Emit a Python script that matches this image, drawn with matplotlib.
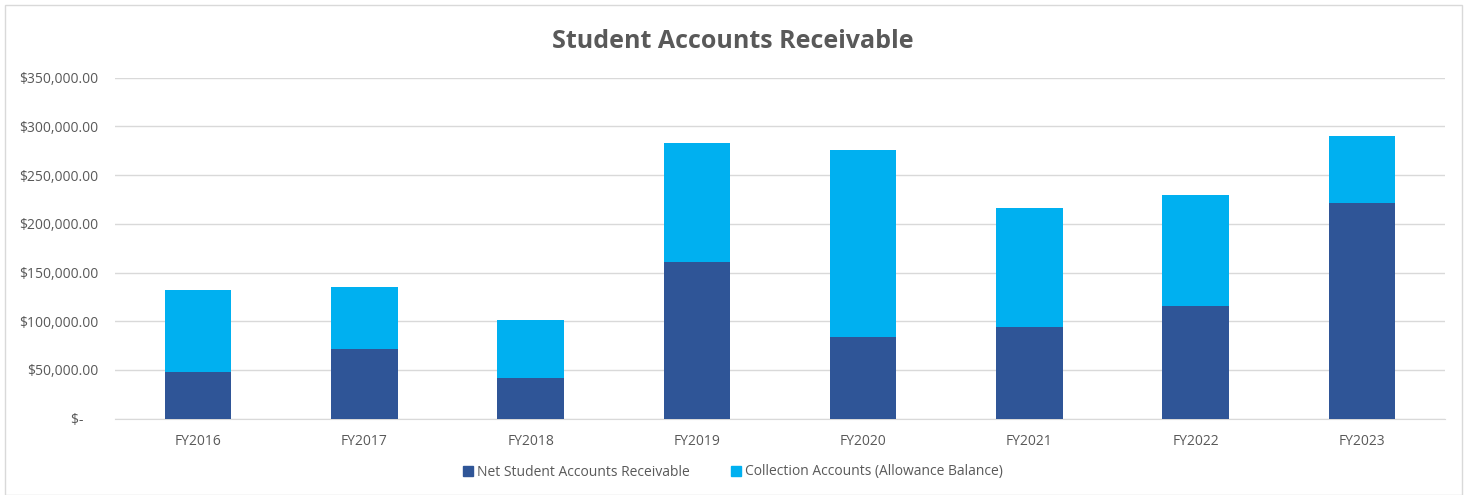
import matplotlib.pyplot as plt
import matplotlib.patches as mpatches
from matplotlib.ticker import FuncFormatter

years = ["FY2016", "FY2017", "FY2018", "FY2019", "FY2020", "FY2021", "FY2022", "FY2023"]
net_ar = [47600, 71900, 41800, 160500, 83500, 93800, 116000, 221000]
collections = [84500, 63600, 59200, 122800, 192000, 122800, 113600, 69500]

dark = "#2F5597"
light = "#00B0F0"
txt = "#595959"

plt.rcParams["font.family"] = ["Open Sans", "DejaVu Sans"]

fig = plt.figure(figsize=(14.66, 4.95), dpi=100)
ax = fig.add_axes([115 / 1466, 1 - 418.7 / 495, 1330 / 1466, 341 / 495])

x = range(len(years))
ax.bar(x, net_ar, width=0.4, color=dark, label="Net Student Accounts Receivable", zorder=3)
ax.bar(x, collections, width=0.4, bottom=net_ar, color=light,
       label="Collection Accounts (Allowance Balance)", zorder=3)

ax.set_xlim(-0.5, len(years) - 0.5)
ax.set_ylim(0, 350000)
ax.set_yticks(range(0, 350001, 50000))
ax.yaxis.set_major_formatter(FuncFormatter(lambda v, p: "$-    " if v == 0 else f"${v:,.2f}"))
ax.set_xticks(list(x))
ax.set_xticklabels(years)
ax.tick_params(axis="both", length=0, colors=txt, labelsize=10)
ax.tick_params(axis="y", pad=12)
ax.tick_params(axis="x", pad=11)
ax.grid(axis="y", color="#D9D9D9", linewidth=1, zorder=0)
for s in ["top", "right", "left"]:
    ax.spines[s].set_visible(False)
ax.spines["bottom"].set_color("#D9D9D9")

fig.text(0.5, 1 - 41 / 495, "Student Accounts Receivable", ha="center", va="center",
         fontsize=18, fontweight="bold", color=txt)

handles = [mpatches.Patch(color=dark, label="Net Student Accounts Receivable"),
           mpatches.Patch(color=light, label="Collection Accounts (Allowance Balance)")]
fig.legend(handles=handles, loc="center", bbox_to_anchor=(0.5, 1 - 472 / 495), ncol=2,
           frameon=False, fontsize=10, labelcolor=txt, handlelength=0.7, handleheight=0.7,
           handletextpad=0.3, columnspacing=3)

fig.add_artist(mpatches.Rectangle((5 / 1466, 0), 1457 / 1466, 1 - 5 / 495, transform=fig.transFigure,
                                  fill=False, edgecolor="#D9D9D9", linewidth=1))

fig.savefig("out.png", dpi=100)
